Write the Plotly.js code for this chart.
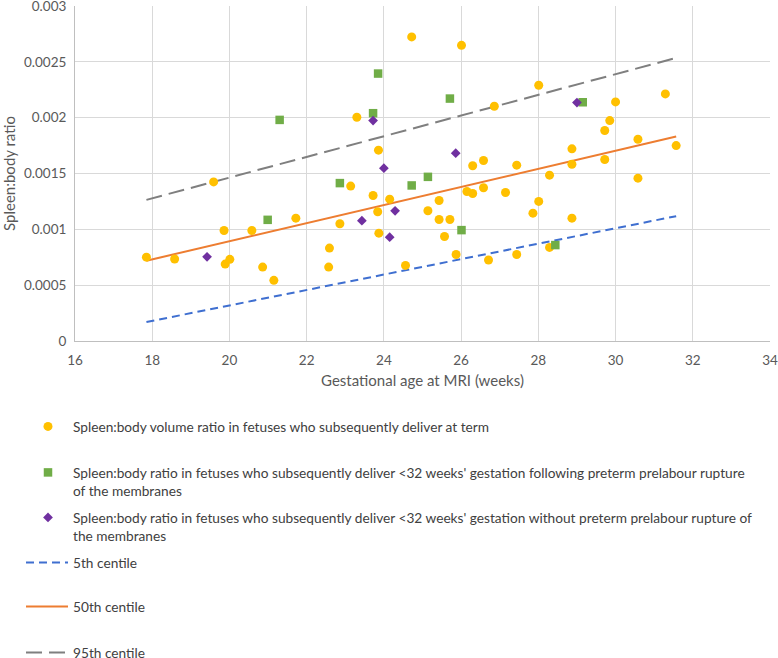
<!DOCTYPE html>
<html>
<head>
<meta charset="utf-8">
<script src="https://cdn.plot.ly/plotly-3.0.1.min.js"></script>
<style>html,body{margin:0;padding:0;background:#fff;}#chart{width:778px;height:658px;}</style>
</head>
<body>
<div id="chart"></div>
<script>
// Term deliveries
var termX = [17.85,18.58,19.59,19.86,19.89,20.01,20.58,20.86,21.15,21.72,22.59,22.57,22.86,23.14,23.30,23.72,23.86,23.84,23.87,24.15,
             24.72,26.01,24.56,25.14,25.43,25.43,25.57,25.71,25.87,26.15,26.30,26.30,26.58,26.58,26.71,26.86,27.15,27.44,27.44,27.86,
             28.01,28.01,28.29,28.29,28.87,28.87,28.87,29.72,29.72,29.85,30.00,30.58,30.58,31.29,31.57];
var termY = [0.000751,0.000734,0.001425,0.00099,0.000689,0.000731,0.00099,0.000662,0.000543,0.0011,0.000832,0.000662,0.00105,0.001387,0.002004,0.001303,0.001709,0.001157,0.000966,0.00127,
             0.002723,0.002648,0.000677,0.001166,0.001258,0.001088,0.000936,0.001088,0.000775,0.001339,0.001569,0.001321,0.001616,0.001372,0.000725,0.002102,0.00133,0.001575,0.000775,0.001145,
             0.00229,0.00125,0.001485,0.000838,0.001721,0.001583,0.0011,0.001885,0.001625,0.001974,0.002141,0.001807,0.001458,0.002213,0.00175];
// Preterm (<32 w) with PPROM
var ppromX = [20.99,21.30,22.86,23.72,23.85,24.72,25.14,25.71,26.01,28.44,29.15];
var ppromY = [0.001085,0.00198,0.001414,0.00204,0.002395,0.001393,0.00147,0.002171,0.000993,0.000859,0.002138];
// Preterm (<32 w) without PPROM
var nonPpromX = [19.42,23.43,23.72,24.00,24.15,24.29,25.86,29.00];
var nonPpromY = [0.000754,0.001077,0.001974,0.001548,0.00093,0.001166,0.001682,0.002135];
// Centile lines
var centileX = [17.85,31.57];
var p5 = [0.00017,0.001118];
var p50 = [0.000719,0.001831];
var p95 = [0.001264,0.002535];

var yTicks = [0,0.0005,0.001,0.0015,0.002,0.0025,0.003];
var yTickText = ['0','0.0005','0.001','0.0015','0.002','0.0025','0.003'];
var xTicks = [16,18,20,22,24,26,28,30,32,34];

var names = [
  "Spleen:body volume ratio in fetuses who subsequently deliver at term",
  "Spleen:body ratio in fetuses who subsequently deliver <32 weeks' gestation following preterm prelabour rupture<br>of the membranes",
  "Spleen:body ratio in fetuses who subsequently deliver <32 weeks' gestation without preterm prelabour rupture of<br>the membranes",
  "5th centile","50th centile","95th centile"
];

var FONT = 'Lato, "Open Sans", sans-serif';
var traces = [
  {x:centileX,y:p5,mode:'lines',name:names[3],legend:'legend4',line:{color:'#3F6FD0',width:2,dash:'8px,5px'}},
  {x:centileX,y:p50,mode:'lines',name:names[4],legend:'legend5',line:{color:'#ED7D31',width:2}},
  {x:centileX,y:p95,mode:'lines',name:names[5],legend:'legend6',line:{color:'#7F7F7F',width:2,dash:'16px,7px'}},
  {x:termX,y:termY,mode:'markers',name:names[0],legend:'legend',marker:{color:'#FFC000',size:9,symbol:'circle'}},
  {x:ppromX,y:ppromY,mode:'markers',name:names[1],legend:'legend2',marker:{color:'#70AD47',size:8.5,symbol:'square'}},
  {x:nonPpromX,y:nonPpromY,mode:'markers',name:names[2],legend:'legend3',marker:{color:'#7030A0',size:7.5,symbol:'diamond'}}
];

var plotTop = 6, plotBottom = 341, plotH = plotBottom - plotTop;
function py(pix){ return (plotBottom - pix)/plotH; }
function leg(xpix, toppix, iw){
  return {x:(xpix-75)/695, xanchor:'left', y:py(toppix), yanchor:'top', bgcolor:'rgba(0,0,0,0)',
          borderwidth:0, valign:'top', itemwidth:iw, font:{family:FONT,size:13.7,color:'#404040'}, itemclick:false};
}

var layout = {
  width:778, height:658,
  margin:{l:75,r:8,t:6,b:317,autoexpand:false},
  paper_bgcolor:'#fff', plot_bgcolor:'#fff',
  font:{family:FONT,color:'#595959'},
  showlegend:true,
  xaxis:{range:[16,34],tickvals:xTicks,ticktext:xTicks.map(String),showgrid:true,gridcolor:'#D9D9D9',gridwidth:1,
         zeroline:false,showline:true,linecolor:'#BFBFBF',linewidth:1,ticks:'',tickfont:{size:13.5,color:'#595959'},
         ticklabelstandoff:7, ticklabeloverflow:'allow',
         title:{text:'Gestational age at MRI (weeks)',font:{size:15,color:'#595959'},standoff:8}},
  yaxis:{range:[0,0.003],tickvals:yTicks,ticktext:yTickText,showgrid:true,gridcolor:'#D9D9D9',gridwidth:1,
         zeroline:false,showline:true,linecolor:'#BFBFBF',linewidth:1,ticks:'',tickfont:{size:13.5,color:'#595959'},
         ticklabelstandoff:5, ticklabeloverflow:'allow',
         title:{text:'Spleen:body ratio',font:{size:15,color:'#595959'},standoff:6}},
  legend: leg(23,411,40),
  legend2: leg(23,457,40),
  legend3: leg(23,502,40),
  legend4: leg(21,547,42),
  legend5: leg(21,591,42),
  legend6: leg(21,637,42)
};

Plotly.newPlot('chart', traces, layout, {displayModeBar:false, staticPlot:true});
</script>
</body>
</html>
